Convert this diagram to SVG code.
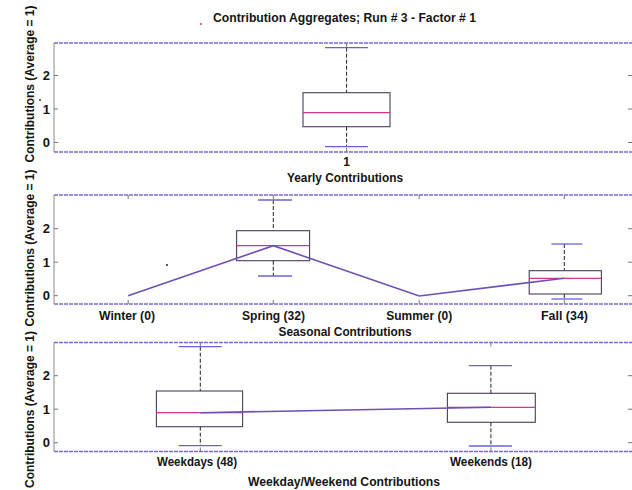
<svg xmlns="http://www.w3.org/2000/svg" width="632" height="490" viewBox="0 0 632 490">
<defs>
<style>
text{font-family:"Liberation Sans",Arial,sans-serif;font-weight:bold;fill:#141414}
.t{font-size:12px}
.tk{font-size:13px;text-anchor:end}
.c{text-anchor:middle}
.frame{stroke:#7c68d4;stroke-width:1.4;stroke-dasharray:4 1;fill:none}
.yax{stroke:#8a8a8a;stroke-width:1;fill:none}
.tick{stroke:#777;stroke-width:1;fill:none}
.box{stroke:#4a3d5e;stroke-width:1.1;fill:none}
.med{stroke:#d4358c;stroke-width:1.3;fill:none}
.wh{stroke:#222;stroke-width:1;stroke-dasharray:4 2;fill:none}
.cap{stroke:#6a62d4;stroke-width:1.3;fill:none}
.ln{stroke:#6f4fb4;stroke-width:1.6;fill:none}
</style>
</defs>
<rect width="632" height="490" fill="#fff"/>

<text class="t c" x="344.5" y="22" textLength="263" lengthAdjust="spacingAndGlyphs">Contribution Aggregates; Run # 3 - Factor # 1</text>

<g id="ylabels">
<text class="t c" transform="translate(34,84) rotate(-90)" textLength="157" lengthAdjust="spacingAndGlyphs">Contributions (Average = 1)</text>
<text class="t c" transform="translate(34,248) rotate(-90)" textLength="157" lengthAdjust="spacingAndGlyphs">Contributions (Average = 1)</text>
<text class="t c" transform="translate(34,409.5) rotate(-90)" textLength="157" lengthAdjust="spacingAndGlyphs">Contributions (Average = 1)</text>
</g>

<g id="axes1">
<line class="frame" x1="54" y1="43" x2="632" y2="43"/>
<line class="frame" x1="54" y1="152" x2="632" y2="152"/>
<line class="yax" x1="54" y1="43" x2="54" y2="152"/>
<path class="tick" d="M54,75.5h4M54,109h4M54,142.5h4M632,75.5h-4M632,109h-4M632,142.5h-4M346.6,43v4M346.6,152v-4"/>
<text class="tk" x="50" y="80">2</text>
<text class="tk" x="50" y="113.5">1</text>
<text class="tk" x="50" y="147">0</text>
<text class="t c" x="346.6" y="166">1</text>
<text class="t c" x="345" y="182" textLength="116" lengthAdjust="spacingAndGlyphs">Yearly Contributions</text>
</g>
<g id="box-yearly">
<line class="wh" x1="346.6" y1="47.7" x2="346.6" y2="92.7"/>
<line class="wh" x1="346.6" y1="126.7" x2="346.6" y2="146.7"/>
<line class="cap" x1="325" y1="47.7" x2="368" y2="47.7"/>
<line class="cap" x1="325" y1="146.7" x2="368" y2="146.7"/>
<rect class="box" x="303" y="92.7" width="87" height="34"/>
<line class="med" x1="303" y1="112.7" x2="390" y2="112.7"/>
</g>

<g id="axes2">
<line class="frame" x1="54" y1="195" x2="632" y2="195"/>
<line class="frame" x1="54" y1="304" x2="632" y2="304"/>
<line class="yax" x1="54" y1="195" x2="54" y2="304"/>
<path class="tick" d="M54,228.7h4M54,262.2h4M54,295.7h4M632,228.7h-4M632,262.2h-4M632,295.7h-4M128.2,195v4M273.3,195v4M419.2,195v4M564.3,195v4M128.2,304v-4M273.3,304v-4M419.2,304v-4M564.3,304v-4"/>
<text class="tk" x="50" y="233.2">2</text>
<text class="tk" x="50" y="266.7">1</text>
<text class="tk" x="50" y="300.2">0</text>
<text class="t c" x="127" y="320" textLength="56" lengthAdjust="spacingAndGlyphs">Winter (0)</text>
<text class="t c" x="273.5" y="320" textLength="63" lengthAdjust="spacingAndGlyphs">Spring (32)</text>
<text class="t c" x="419.2" y="320" textLength="66" lengthAdjust="spacingAndGlyphs">Summer (0)</text>
<text class="t c" x="564.5" y="320" textLength="47" lengthAdjust="spacingAndGlyphs">Fall (34)</text>
<text class="t c" x="345" y="336" textLength="133" lengthAdjust="spacingAndGlyphs">Seasonal Contributions</text>
</g>
<g id="box-spring">
<line class="wh" x1="273.3" y1="200" x2="273.3" y2="230.7"/>
<line class="wh" x1="273.3" y1="260.7" x2="273.3" y2="276"/>
<line class="cap" x1="258" y1="200" x2="292" y2="200"/>
<line class="cap" x1="258" y1="276" x2="292" y2="276"/>
<rect class="box" x="236.6" y="230.7" width="73" height="30"/>
<line class="med" x1="236.6" y1="245.7" x2="309.6" y2="245.7"/>
</g>
<g id="box-fall">
<line class="wh" x1="564.3" y1="244" x2="564.3" y2="270.7"/>
<line class="wh" x1="564.3" y1="294" x2="564.3" y2="299"/>
<line class="cap" x1="551.4" y1="244" x2="582.4" y2="244"/>
<line class="cap" x1="551.4" y1="299" x2="582.4" y2="299"/>
<rect class="box" x="529.2" y="270.7" width="72.2" height="23.3"/>
<line class="med" x1="529.2" y1="278.3" x2="601.4" y2="278.3"/>
</g>

<g id="axes3">
<line class="frame" x1="54" y1="342.5" x2="632" y2="342.5"/>
<line class="frame" x1="54" y1="451.5" x2="632" y2="451.5"/>
<line class="yax" x1="54" y1="342.5" x2="54" y2="451.5"/>
<path class="tick" d="M54,375.7h4M54,409.2h4M54,442.7h4M632,375.7h-4M632,409.2h-4M632,442.7h-4M200.3,342.5v4M490.9,342.5v4M200.3,451.5v-4M490.9,451.5v-4"/>
<text class="tk" x="50" y="380.2">2</text>
<text class="tk" x="50" y="413.7">1</text>
<text class="tk" x="50" y="447.2">0</text>
<text class="t c" x="197" y="466" textLength="80" lengthAdjust="spacingAndGlyphs">Weekdays (48)</text>
<text class="t c" x="491" y="466" textLength="82" lengthAdjust="spacingAndGlyphs">Weekends (18)</text>
<text class="t c" x="344" y="486" textLength="192" lengthAdjust="spacingAndGlyphs">Weekday/Weekend Contributions</text>
</g>
<g id="box-weekdays">
<line class="wh" x1="200.3" y1="346.7" x2="200.3" y2="391"/>
<line class="wh" x1="200.3" y1="426.7" x2="200.3" y2="445.7"/>
<line class="cap" x1="178.6" y1="346.7" x2="221.7" y2="346.7"/>
<line class="cap" x1="178.6" y1="445.7" x2="221.7" y2="445.7"/>
<rect class="box" x="156.4" y="391" width="86.2" height="35.7"/>
<line class="med" x1="156.4" y1="412.7" x2="242.6" y2="412.7"/>
</g>
<g id="box-weekends">
<line class="wh" x1="490.9" y1="365.7" x2="490.9" y2="393.3"/>
<line class="wh" x1="490.9" y1="422.3" x2="490.9" y2="446"/>
<line class="cap" x1="468.8" y1="365.7" x2="511.9" y2="365.7"/>
<line class="cap" x1="468.8" y1="446" x2="511.9" y2="446"/>
<rect class="box" x="447.4" y="393.3" width="87.9" height="29"/>
<line class="med" x1="447.4" y1="407.3" x2="535.3" y2="407.3"/>
</g>

<g id="connectors">
<polyline class="ln" points="128.2,295.7 273.3,245.7 419.2,296 564.3,278.3"/>
<polyline class="ln" points="200.3,412.7 490.9,407.3"/>
</g>

<g id="specks">
<circle cx="201" cy="24" r="0.9" fill="#c03030"/>
<circle cx="167" cy="265" r="1" fill="#222"/>
<circle cx="40" cy="100" r="0.9" fill="#222"/>
</g>
</svg>
